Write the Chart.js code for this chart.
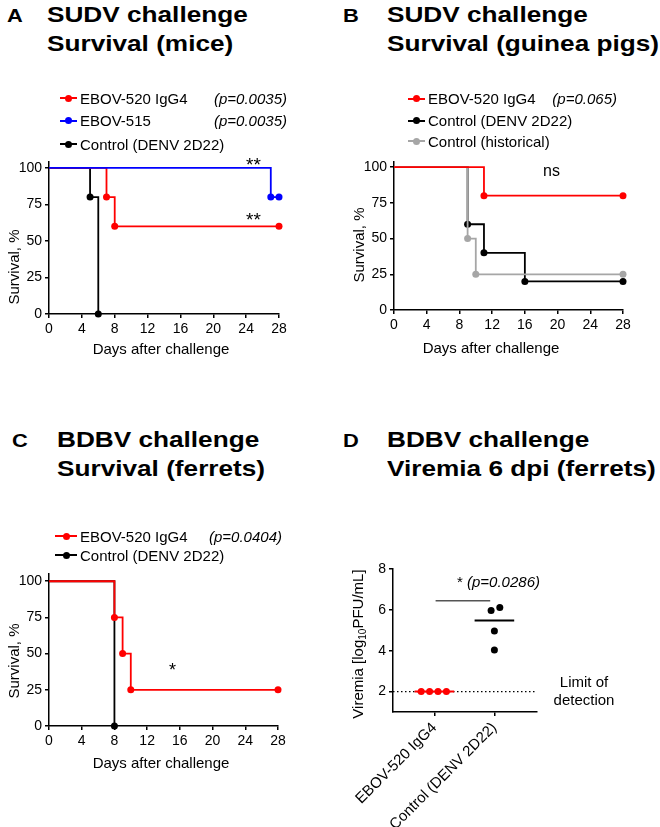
<!DOCTYPE html>
<html>
<head>
<meta charset="utf-8">
<title>EBOV-520 IgG4 protection</title>
<script src="https://cdn.jsdelivr.net/npm/chart.js@4.4.1/dist/chart.umd.min.js"></script>
<style>
  html, body { margin: 0; padding: 0; background: #fff; }
  #page { position: relative; width: 660px; height: 827px; overflow: hidden;
          font-family: 'Liberation Sans', Arial, sans-serif; color: #000; }
  #page canvas { position: absolute; }
  .t { position: absolute; white-space: nowrap; line-height: 1; }
  .letter { font-size: 19px; font-weight: bold; transform: scaleX(1.15); transform-origin: 0 0; }
  .title { font-size: 22px; font-weight: bold; line-height: 29px; transform: scaleX(1.19); transform-origin: 0 0; }
  .f15 { font-size: 15px; }
  .ytitle { font-size: 15px; transform: translate(-50%, -50%) rotate(-90deg); }
  .xtitle { font-size: 15px; transform: translateX(-50%); }
  .pval { font-size: 15px; font-style: italic; }
  .mk-line { position: absolute; height: 2px; }
  .mk-dot { position: absolute; width: 7px; height: 7px; border-radius: 50%; }
  sub { font-size: 10px; vertical-align: -3px; line-height: 0; }
</style>
</head>
<body>
<div id="page">
  <!-- panel headings -->
  <div class="t letter" style="left:7px;top:5.6px">A</div>
  <div class="t title" style="left:47px;top:0">SUDV challenge<br>Survival (mice)</div>
  <div class="t letter" style="left:343px;top:5.6px">B</div>
  <div class="t title" style="left:387px;top:0">SUDV challenge<br>Survival (guinea pigs)</div>
  <div class="t letter" style="left:12px;top:430.6px">C</div>
  <div class="t title" style="left:57px;top:424.6px">BDBV challenge<br>Survival (ferrets)</div>
  <div class="t letter" style="left:343px;top:430.6px">D</div>
  <div class="t title" style="left:387px;top:424.6px">BDBV challenge<br>Viremia 6 dpi (ferrets)</div>

  <canvas id="chartA" width="330" height="215" style="left:0;top:150px"></canvas>
  <canvas id="chartB" width="330" height="215" style="left:330px;top:150px"></canvas>
  <canvas id="chartC" width="330" height="215" style="left:0;top:560px"></canvas>
  <canvas id="chartD" width="330" height="287" style="left:330px;top:540px"></canvas>

  <!-- axis titles -->
  <div class="t ytitle" style="left:12.5px;top:267px">Survival, %</div>
  <div class="t ytitle" style="left:357.5px;top:245px">Survival, %</div>
  <div class="t ytitle" style="left:12.5px;top:661px">Survival, %</div>
  <div class="t ytitle" style="left:357px;top:644px">Viremia [log<sub>10</sub>PFU/mL]</div>
  <div class="t xtitle" style="left:161px;top:340.6px">Days after challenge</div>
  <div class="t xtitle" style="left:491px;top:340px">Days after challenge</div>
  <div class="t xtitle" style="left:161px;top:754.7px">Days after challenge</div>

  <!-- significance marks -->
  <div class="t" style="left:246px;top:154.5px;font-size:19px">**</div>
  <div class="t" style="left:246px;top:209.5px;font-size:19px">**</div>
  <div class="t" style="left:543px;top:163.2px;font-size:16px">ns</div>
  <div class="t" style="left:169px;top:660.6px;font-size:18px">*</div>
  <div class="t f15" style="left:457px;top:574px">* <i>(p=0.0286)</i></div>
  <div class="t f15" style="left:584px;top:672.5px;line-height:18px;text-align:center;transform:translateX(-50%)">Limit of<br>detection</div>
</div>

<script>
// ── Colours ──────────────────────────────────────────────────────────────────
const RED   = '#ff0000';
const BLUE  = '#0000ff';
const BLACK = '#000000';
const GREY  = '#a6a6a6';

// ── Shared ticks ─────────────────────────────────────────────────────────────
const DAY_TICKS  = [0, 4, 8, 12, 16, 20, 24, 28];
const SURV_TICKS = [0, 25, 50, 75, 100];

// ── A. SUDV, mice ────────────────────────────────────────────────────────────
const A_LABELS   = ['EBOV-520 IgG4', 'EBOV-515', 'Control (DENV 2D22)'];
const A_PVALUES  = ['(p=0.0035)', '(p=0.0035)', ''];
const A_520_DAYS = [0, 7, 8, 28];
const A_520_SURV = [100, 80, 60, 60];
const A_515_DAYS = [0, 27, 28];
const A_515_SURV = [100, 80, 80];
const A_CTL_DAYS = [0, 5, 6];
const A_CTL_SURV = [100, 80, 0];

// ── B. SUDV, guinea pigs ─────────────────────────────────────────────────────
const B_LABELS    = ['EBOV-520 IgG4', 'Control (DENV 2D22)', 'Control (historical)'];
const B_PVALUES   = ['(p=0.065)', '', ''];
const B_520_DAYS  = [0, 11, 28];
const B_520_SURV  = [100, 80, 80];
const B_CTL_DAYS  = [0, 9, 11, 16, 28];
const B_CTL_SURV  = [100, 60, 40, 20, 20];
const B_HIST_DAYS = [0, 9, 10, 28];
const B_HIST_SURV = [100, 50, 25, 25];

// ── C. BDBV, ferrets ─────────────────────────────────────────────────────────
const C_LABELS   = ['EBOV-520 IgG4', 'Control (DENV 2D22)'];
const C_PVALUES  = ['(p=0.0404)', ''];
const C_520_DAYS = [0, 8, 9, 10, 28];
const C_520_SURV = [100, 75, 50, 25, 25];
const C_CTL_DAYS = [0, 8];
const C_CTL_SURV = [100, 0];

// ── D. BDBV viremia 6 dpi ────────────────────────────────────────────────────
const D_GROUPS  = ['EBOV-520 IgG4', 'Control (DENV 2D22)'];
const D_520_X   = [0.78, 0.92, 1.06, 1.20];
const D_520_Y   = [2, 2, 2, 2];
const D_CTL_X   = [1.945, 2.09, 2.0, 2.0];
const D_CTL_Y   = [5.97, 6.12, 4.96, 4.04];
const D_MEDIANS = [2, 5.48];
const D_LOD     = 2;
const D_SIG_X   = [1.02, 1.93];
const D_SIG_Y   = 6.44;
const D_TICKS   = [2, 4, 6, 8];

Chart.defaults.font.family = "'Liberation Sans', Arial, sans-serif";
Chart.defaults.font.size = 14;
Chart.defaults.color = '#000';

const axisGrid   = { drawOnChartArea: false, drawTicks: true, tickLength: 4, color: '#000', lineWidth: 1.5 };
const axisBorder = { display: true, color: '#000', width: 1.5 };

const pts = (xs, ys) => xs.map((x, i) => ({ x, y: ys[i] }));

function kmSet(days, surv, color) {
  return {
    data: pts(days, surv),
    showLine: true,
    stepped: true,
    borderColor: color,
    backgroundColor: color,
    borderWidth: 1.8,
    pointRadius: c => (c.dataIndex === 0 ? 0 : 3.5),
    pointBorderWidth: 0,
    clip: false,
  };
}

// datasets listed top-most first
function survivalChart(id, datasets, yMax, pad, yWidth, xHeight) {
  return new Chart(document.getElementById(id), {
    type: 'scatter',
    data: { datasets },
    options: {
      responsive: false,
      animation: false,
      events: [],
      layout: { padding: pad },
      plugins: { legend: { display: false }, tooltip: { enabled: false } },
      scales: {
        x: {
          type: 'linear', min: 0, max: 28,
          afterBuildTicks: s => { s.ticks = DAY_TICKS.map(v => ({ value: v })); },
          afterFit: s => { s.height = xHeight; },
          grid: axisGrid, border: axisBorder,
          ticks: { padding: 3, autoSkip: false }
        },
        y: {
          type: 'linear', min: 0, max: yMax,
          afterBuildTicks: s => { s.ticks = SURV_TICKS.map(v => ({ value: v })); },
          afterFit: s => { s.width = yWidth; },
          grid: axisGrid, border: axisBorder,
          ticks: { padding: 3 }
        }
      }
    }
  });
}

survivalChart('chartA', [
  kmSet(A_515_DAYS, A_515_SURV, BLUE),
  kmSet(A_520_DAYS, A_520_SURV, RED),
  kmSet(A_CTL_DAYS, A_CTL_SURV, BLACK),
], 104, { left: 0, top: 12, right: 51, bottom: 0 }, 49, 51);

survivalChart('chartB', [
  kmSet(B_520_DAYS, B_520_SURV, RED),
  kmSet(B_HIST_DAYS, B_HIST_SURV, GREY),
  kmSet(B_CTL_DAYS, B_CTL_SURV, BLACK),
], 104, { left: 0, top: 9, right: 37, bottom: 0 }, 64, 55);

survivalChart('chartC', [
  kmSet(C_520_DAYS, C_520_SURV, RED),
  kmSet(C_CTL_DAYS, C_CTL_SURV, BLACK),
], 105, { left: 0, top: 14, right: 52, bottom: 0 }, 49, 49);

// ── D. scatter with medians ──────────────────────────────────────────────────
const D_X_MIN = 0.31, D_X_MAX = 2.71, D_HALF = 0.33;
const flat = (x0, x1, y) => [{ x: x0, y }, { x: x1, y }];

new Chart(document.getElementById('chartD'), {
  type: 'scatter',
  data: {
    datasets: [
      { data: pts(D_520_X, D_520_Y), backgroundColor: RED, pointRadius: 3.5, pointBorderWidth: 0, clip: false },
      { data: pts(D_CTL_X, D_CTL_Y), backgroundColor: BLACK, pointRadius: 3.5, pointBorderWidth: 0, clip: false },
      { data: flat(1 - D_HALF, 1 + D_HALF, D_MEDIANS[0]), showLine: true, borderColor: RED, borderWidth: 2, pointRadius: 0 },
      { data: flat(2 - D_HALF, 2 + D_HALF, D_MEDIANS[1]), showLine: true, borderColor: BLACK, borderWidth: 2, pointRadius: 0 },
      { data: flat(D_SIG_X[0], D_SIG_X[1], D_SIG_Y), showLine: true, borderColor: '#555', borderWidth: 1.5, pointRadius: 0 },
      { data: flat(D_X_MIN, 2.68, D_LOD), showLine: true, borderColor: BLACK, borderWidth: 1.2, borderDash: [1.5, 2.5], pointRadius: 0 },
    ]
  },
  options: {
    responsive: false,
    animation: false,
    events: [],
    layout: { padding: { left: 0, top: 29, right: 123, bottom: 0 } },
    plugins: { legend: { display: false }, tooltip: { enabled: false } },
    scales: {
      x: {
        type: 'linear', min: D_X_MIN, max: D_X_MAX,
        afterBuildTicks: s => { s.ticks = D_GROUPS.map((g, i) => ({ value: i + 1 })); },
        afterFit: s => { s.height = 115; },
        grid: axisGrid, border: axisBorder,
        ticks: { padding: 3, autoSkip: false, minRotation: 45, maxRotation: 45,
                 font: { size: 15 }, callback: v => D_GROUPS[Math.round(v) - 1] }
      },
      y: {
        type: 'linear', min: 1, max: 8,
        afterBuildTicks: s => { s.ticks = D_TICKS.map(v => ({ value: v })); },
        afterFit: s => { s.width = 63; },
        grid: axisGrid, border: axisBorder,
        ticks: { padding: 3 }
      }
    }
  }
});

// ── Legends (HTML) ───────────────────────────────────────────────────────────
function addLegend(mx, tx, baselines, labels, colors, pvals, pRight) {
  const page = document.getElementById('page');
  labels.forEach((label, i) => {
    const mid = baselines[i] - 5.3;
    const w = tx - 3 - mx;

    const line = document.createElement('div');
    line.className = 'mk-line';
    line.style.cssText = `left:${mx}px;top:${mid - 1}px;width:${w}px;background:${colors[i]}`;
    page.appendChild(line);

    const dot = document.createElement('div');
    dot.className = 'mk-dot';
    dot.style.cssText = `left:${mx + w / 2 - 3.5}px;top:${mid - 3.5}px;background:${colors[i]}`;
    page.appendChild(dot);

    const txt = document.createElement('div');
    txt.className = 't f15';
    txt.style.cssText = `left:${tx}px;top:${baselines[i] - 12.7}px`;
    txt.textContent = label;
    page.appendChild(txt);

    if (pvals[i]) {
      const p = document.createElement('div');
      p.className = 't pval';
      p.style.cssText = `right:${660 - pRight}px;top:${baselines[i] - 12.7}px`;
      p.textContent = pvals[i];
      page.appendChild(p);
    }
  });
}

addLegend(60, 80, [103.3, 126, 149.3], A_LABELS, [RED, BLUE, BLACK], A_PVALUES, 287);
addLegend(408, 428, [104, 126, 146.7], B_LABELS, [RED, BLACK, GREY], B_PVALUES, 617);
addLegend(55, 80, [541.7, 560.7], C_LABELS, [RED, BLACK], C_PVALUES, 282);
</script>
</body>
</html>
